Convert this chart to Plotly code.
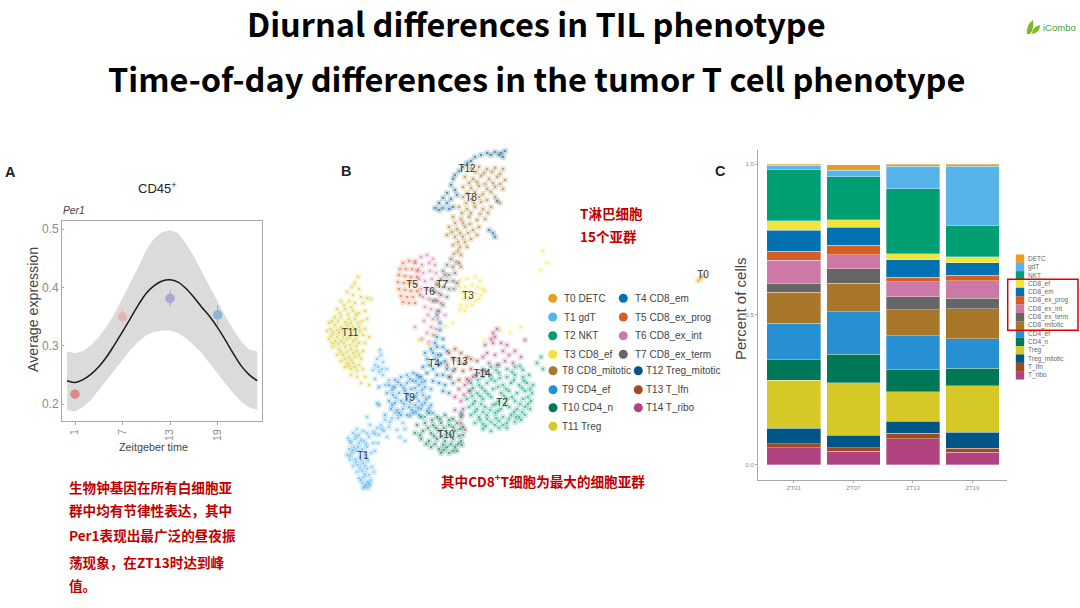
import plotly.graph_objects as go

W, H = 1080, 608

# ---------- Panel A data ----------
zt_hours = [0,1,2,3,4,5,6,7,8,9,10,11,12,13,14,15,16,17,18,19,20,21,22,23,24]
per1_fit = [.240,.237,.242,.251,.264,.281,.302,.324,.347,.370,.390,.403,.411,.413,.409,.398,.383,.366,.350,.331,.309,.286,.265,.250,.240]
per1_up  = [.290,.287,.291,.301,.315,.333,.355,.381,.407,.435,.464,.484,.495,.498,.493,.475,.453,.427,.401,.375,.350,.327,.307,.293,.290]
per1_lo  = [.190,.187,.195,.207,.224,.241,.258,.275,.293,.307,.318,.324,.326,.326,.322,.313,.301,.287,.270,.253,.235,.218,.204,.194,.190]
pt_hours = [1,7,13,19]
pt_vals  = [.217,.349,.381,.353]
pt_errs  = [.008,.014,.014,.017]
pt_cols  = ['#DF8888','#E8B5B5','#A9A6CF','#8FB2D8']

# ---------- Panel B data (UMAP units) ----------
T1 = [(-77,-113),(-72,-108),(-68,-104),(-74,-118),(-70,-114),(-66,-110),(-62,-106),(-58,-108),(-76,-124),(-71,-122),(-66,-118),(-61,-116),(-56,-112),(-78,-130),(-73,-128),(-68,-126),(-63,-124),(-58,-122),(-52,-118),(-75,-135),(-70,-134),(-65,-132),(-60,-130),(-54,-128),(-72,-141),(-67,-140),(-62,-138),(-57,-136),(-50,-126),(-68,-147),(-63,-146),(-58,-144),(-53,-142),(-66,-153),(-61,-152),(-56,-150),(-51,-147),(-63,-158),(-58,-157),(-54,-155),(-60,-162),(-57,-163),(-55,-160),(-62,-163),(-52,-107),(-48,-103),(-44,-100),(-40,-95),(-46,-110),(-41,-106),(-36,-102),(-33,-93),(-30,-88),(-38,-112),(-28,-105),(-22,-98),(-25,-112),(-20,-104),(-47,-118),(-55,-100),(-52,-45),(-50,-40),(-48,-34),(-44,-30),(-42,-37),(-46,-47),(-42,-50),(-45,-25),(-38,-44),(-36,-55),(-40,-60),(-50,-54),(-32,-62),(-58,-92),(-48,-78),(-20,-116)]
T1b = [(-75,-116),(-69,-111),(-64,-115),(-72,-125),(-67,-122),(-59,-119),(-75,-131),(-61,-127),(-69,-137),(-64,-135),(-59,-133),(-65,-143),(-60,-141),(-60,-149),(-64,-155),(-56,-158),(-59,-160),(-50,-109),(-43,-104),(-35,-97),(-27,-93),(-47,-42),(-43,-44)]
T2 = [(58,-44),(66,-42),(74,-40),(82,-44),(90,-42),(98,-45),(50,-50),(58,-52),(66,-50),(74,-48),(82,-52),(90,-50),(98,-52),(104,-50),(46,-58),(54,-60),(62,-58),(70,-56),(78,-60),(86,-58),(94,-60),(102,-58),(108,-60),(44,-66),(52,-68),(60,-66),(68,-64),(76,-68),(84,-66),(92,-68),(100,-66),(107,-68),(42,-74),(50,-76),(58,-74),(66,-72),(74,-76),(82,-74),(90,-76),(98,-74),(106,-76),(44,-82),(52,-84),(60,-82),(68,-80),(76,-84),(84,-82),(92,-84),(100,-82),(105,-84),(46,-90),(54,-92),(62,-90),(70,-88),(78,-92),(86,-90),(94,-92),(100,-90),(50,-98),(58,-99),(66,-97),(74,-96),(82,-98),(90,-97),(96,-95),(58,-104),(66,-106),(74,-103),(82,-103),(36,-88),(112,-38),(118,-44),(116,-32)]
T2b = [(61,-47),(71,-45),(87,-47),(95,-41),(53,-55),(66,-54),(75,-53),(89,-55),(99,-56),(48,-63),(57,-63),(73,-62),(81,-64),(97,-63),(105,-64),(47,-71),(55,-71),(63,-69),(79,-71),(87,-72),(103,-72),(48,-79),(56,-79),(71,-79),(80,-79),(95,-79),(103,-79),(50,-87),(58,-87),(65,-85),(73,-86),(89,-87),(97,-87),(55,-95),(62,-94),(71,-93),(84,-94),(91,-92),(61,-101),(70,-100),(78,-100)]
T3 = [(35,45),(42,46),(50,48),(55,44),(34,38),(40,38),(47,40),(53,38),(58,36),(38,32),(44,33),(50,32),(56,30),(60,34),(38,26),(44,26),(50,24),(54,26),(36,20),(42,19),(47,20),(35,15),(40,14),(-6,-15),(4,-20),(10,-10),(20,-1),(28,2),(60,-15),(75,-5),(85,-8),(96,-2),(118,74),(122,62),(116,55)]
T4 = [(-8,-50),(-2,-42),(2,-34),(6,-24),(10,-18),(12,-12),(15,-5),(-4,-52),(2,-48),(8,-44),(14,-40),(20,-36),(4,-40),(10,-34),(16,-30),(22,-26),(0,-28),(8,-28),(12,-22),(18,-22),(13,-30),(16,-38),(22,-44),(28,-46),(12,-50),(18,-50),(24,-52),(14,-58),(20,-60),(28,-58),(8,-56),(18,-66),(24,-68),(15,2),(12,10),(18,-14)]
T5 = [(-22,62),(-16,64),(-10,62),(-25,56),(-19,56),(-13,56),(-7,55),(-26,50),(-20,49),(-14,48),(-8,48),(-27,43),(-21,42),(-15,42),(-9,41),(-26,36),(-20,35),(-14,34),(-8,34),(-24,29),(-18,28),(-12,28),(-5,30),(-22,23),(-16,22),(-10,22)]
T6 = [(-4,68),(2,70),(8,66),(-10,64),(-3,60),(4,62),(10,60),(-8,54),(-2,52),(5,54),(11,52),(-6,46),(0,44),(7,46),(12,42),(-4,36),(2,36),(8,35),(14,32),(-2,28),(4,26),(10,25),(16,22),(0,18),(6,16),(12,14),(3,10),(8,6),(13,6),(-1,4),(6,-2),(11,-4),(2,-8),(8,-10),(-3,-14),(4,-17),(-10,-2),(20,10)]
T7 = [(26,66),(22,60),(28,58),(18,54),(24,50),(30,52),(34,62),(16,46),(22,44),(28,44),(32,42),(12,40),(18,38),(24,36),(29,36),(10,33),(16,30),(22,28),(12,24),(18,20),(14,14),(8,24),(20,50)]
T8 = [(46,157),(54,158),(62,156),(70,157),(78,156),(40,148),(48,146),(56,149),(64,146),(72,148),(80,145),(38,138),(46,137),(54,139),(62,136),(70,138),(78,136),(38,128),(46,126),(54,128),(62,125),(70,128),(75,122),(34,118),(42,116),(50,118),(58,116),(66,118),(28,108),(36,106),(44,108),(52,105),(60,106),(24,98),(32,96),(40,98),(48,95),(54,98),(22,90),(30,88),(38,88),(46,86),(52,90),(28,80),(35,78),(42,78),(29,71),(36,70),(31,63),(36,58)]
T8b = [(51,153),(59,152),(67,153),(75,151),(44,142),(52,143),(60,141),(68,142),(75,141),(42,132),(50,133),(58,131),(66,133),(41,122),(49,122),(56,123),(37,112),(46,112),(55,111),(63,112),(30,102),(38,102),(45,101),(27,93),(35,92),(43,92),(33,83),(40,83),(33,74)]
T9 = [(-30,-55),(-24,-52),(-18,-50),(-12,-48),(-6,-52),(0,-56),(-36,-60),(-30,-62),(-24,-60),(-18,-58),(-12,-56),(-6,-60),(0,-62),(6,-64),(-38,-68),(-32,-70),(-26,-68),(-20,-66),(-14,-64),(-8,-68),(-2,-70),(4,-72),(-36,-76),(-30,-78),(-24,-76),(-18,-74),(-12,-72),(-6,-76),(0,-78),(6,-80),(-34,-84),(-28,-85),(-22,-84),(-16,-82),(-10,-80),(-4,-84),(2,-86),(8,-88),(-24,-90),(-18,-90),(-12,-88),(-6,-90),(0,-92),(-40,-90),(-46,-62),(-46,-80)]
T9b = [(-27,-57),(-15,-54),(-9,-56),(-3,-57),(-33,-65),(-21,-63),(-10,-63),(-3,-65),(-29,-73),(-17,-70),(-9,-72),(1,-74),(-33,-80),(-21,-79),(-15,-77),(-3,-80),(-26,-88),(-13,-85),(-7,-83),(4,-83),(-15,-91),(-9,-87)]
T10 = [(-4,-92),(4,-88),(12,-92),(20,-90),(28,-94),(36,-92),(-8,-100),(0,-98),(8,-100),(16,-98),(24,-100),(32,-98),(38,-102),(-10,-108),(-2,-106),(6,-108),(14,-106),(22,-108),(30,-106),(38,-110),(-4,-114),(4,-116),(12,-114),(20,-116),(28,-114),(36,-116),(6,-122),(14,-124),(22,-122),(30,-122),(37,-120),(16,-128),(24,-128),(32,-126)]
T10b = [(7,-95),(15,-94),(24,-95),(3,-103),(11,-103),(19,-103),(28,-102),(35,-104),(-5,-110),(9,-111),(17,-111),(26,-110),(34,-111),(1,-119),(10,-119),(18,-120),(26,-119),(33,-119),(19,-125),(28,-126)]
T11 = [(-67,48),(-70,42),(-73,38),(-66,36),(-78,33),(-72,30),(-64,28),(-58,27),(-84,24),(-76,24),(-70,22),(-62,22),(-54,26),(-88,16),(-80,16),(-72,14),(-66,12),(-60,14),(-90,8),(-84,8),(-76,6),(-70,6),(-63,4),(-58,6),(-96,2),(-90,0),(-84,-2),(-78,0),(-72,-2),(-66,-2),(-60,-4),(-98,-6),(-92,-8),(-86,-8),(-80,-8),(-74,-8),(-68,-10),(-62,-10),(-56,-12),(-96,-14),(-90,-16),(-84,-16),(-78,-14),(-72,-16),(-66,-18),(-60,-18),(-92,-22),(-86,-24),(-80,-22),(-74,-24),(-68,-26),(-62,-26),(-88,-30),(-82,-30),(-76,-32),(-70,-32),(-64,-34),(-84,-36),(-78,-38),(-72,-38),(-66,-40),(-80,-42),(-74,-44),(-68,-46),(-62,-44),(-74,-50),(-68,-52),(-60,-52),(-64,-58),(-56,-60)]
T11b = [(-81,20),(-74,18),(-85,12),(-77,11),(-69,10),(-93,4),(-87,4),(-80,3),(-74,2),(-67,2),(-94,-4),(-88,-5),(-83,-5),(-77,-4),(-71,-5),(-65,-6),(-94,-11),(-88,-12),(-82,-12),(-75,-12),(-69,-14),(-93,-18),(-87,-19),(-81,-18),(-75,-20),(-69,-21),(-84,-27),(-78,-27),(-72,-28),(-66,-30),(-80,-34),(-74,-35),(-76,-41),(-70,-42)]
T12 = [(80,174),(76,172),(70,173),(66,170),(62,172),(56,170),(50,168),(46,164),(42,162),(38,158),(34,154),(30,150),(28,146),(26,140),(30,135),(22,132),(18,127),(26,126),(32,130),(14,122),(22,122),(10,117),(14,115),(18,117),(24,116),(28,118),(74,170),(78,168),(72,124),(68,92),(64,95),(70,88)]
T13 = [(24,-28),(30,-24),(36,-28),(42,-32),(28,-34),(34,-36),(40,-38),(46,-34),(52,-36),(22,-40),(30,-44),(38,-46),(46,-44),(25,-52),(34,-55),(42,-54)]
T14 = [(36,-98),(37,-90),(38,-84),(36,-76),(39,-70),(34,-64),(40,-60),(44,-56),(48,-52),(54,-48),(60,-46),(30,-72),(45,-66),(68,-8),(66,-14),(70,-12),(68,-18),(72,-4),(60,-20),(76,-18),(62,-28),(70,-30),(78,-26),(84,-30),(90,-26),(64,-38),(72,-40),(80,-36),(88,-38),(96,-32),(58,-32),(82,-20),(100,-15),(30,-85),(40,-105)]
T0 = [(273,44),(275,46),(277,48),(279,50)]

cluster_names = ['T0','T1','T2','T3','T4','T5','T6','T7','T8','T9','T10','T11','T12','T13','T14']
cell_types = ['DETC','gdT','NKT','CD8_ef','CD8_em','CD8_ex_prog','CD8_ex_int','CD8_ex_term','CD8_mitotic','CD4_ef','CD4_n','Treg','Treg_mitotic','T_Ifn','T_ribo']
cluster_cols = ['#E69F1F','#56B4E9','#009E73','#F0E442','#0072B2','#D55E27','#CC79A7','#666666','#A87729','#2690D3','#007756','#D5C827','#005685','#A04A24','#B14380']
cluster_pts = [T0,T1+T1b,T2+T2b,T3,T4,T5,T6,T7,T8+T8b,T9+T9b,T10+T10b,T11+T11b,T12,T13,T14]
label_u = [278,-62,77,43,9,-13,4,17,46,-16,21,-75,42,34,57]
label_v = [50,-131,-78,29,-39,40,33,40,127,-73,-110,-8,156,-37,-49]

# ---------- Panel C data ----------
zt_groups = ['ZT01','ZT07','ZT13','ZT19']
DETC    = [.004,.019,.007,.007]
gdT     = [.014,.022,.076,.198]
NKT     = [.171,.143,.215,.103]
CD8_ef  = [.032,.025,.020,.020]
CD8_em  = [.069,.060,.059,.041]
CD8_ex_prog = [.030,.030,.014,.019]
CD8_ex_int  = [.079,.048,.051,.058]
CD8_ex_term = [.027,.048,.042,.035]
CD8_mitotic = [.104,.094,.088,.099]
CD4_ef  = [.121,.142,.113,.098]
CD4_n   = [.068,.095,.073,.058]
Treg    = [.160,.174,.098,.155]
Treg_mitotic = [.051,.041,.040,.053]
T_Ifn   = [.014,.013,.017,.013]
T_ribo  = [.057,.045,.088,.043]
stack_top_down = [DETC,gdT,NKT,CD8_ef,CD8_em,CD8_ex_prog,CD8_ex_int,CD8_ex_term,CD8_mitotic,CD4_ef,CD4_n,Treg,Treg_mitotic,T_Ifn,T_ribo]

# ---------- Text ----------
title_1 = 'Diurnal differences in TIL phenotype'
title_2 = 'Time-of-day differences in the tumor T cell phenotype'
note_a = ['生物钟基因在所有白细胞亚','群中均有节律性表达，其中','Per1表现出最广泛的昼夜振','荡现象，在ZT13时达到峰','值。']
note_b = ['T淋巴细胞','15个亚群']
note_c = '其中CD8<sup>+</sup>T细胞为最大的细胞亚群'

SANS = 'Liberation Sans'
CJK = 'Noto Sans CJK SC'
RED = '#C00000'
GREY = '#8A8A8A'

def xdom(a, b): return [a / W, b / W]
def ydom(a, b): return [1 - b / H, 1 - a / H]

fig = go.Figure()
ann = []
def txt(x, y, s, size, color='#333333', anchor='left', font=SANS, weight=400, angle=0):
    ann.append(dict(x=x / W, y=1 - y / H, xref='paper', yref='paper', text=s, showarrow=False,
                    xanchor=anchor, yanchor='middle', textangle=angle, borderpad=0, borderwidth=0,
                    font=dict(size=size, color=color, family=font, weight=weight)))

# Panel A
fig.add_trace(go.Scatter(x=zt_hours + zt_hours[::-1], y=per1_up + per1_lo[::-1], fill='toself',
                         fillcolor='#DBDBDB', mode='lines', line=dict(width=0), xaxis='x', yaxis='y', showlegend=False))
fig.add_trace(go.Scatter(x=zt_hours, y=per1_fit, mode='lines', line=dict(color='#1A1A1A', width=1.5, shape='spline'),
                         xaxis='x', yaxis='y', showlegend=False))
for h, v, e, c in zip(pt_hours, pt_vals, pt_errs, pt_cols):
    fig.add_trace(go.Scatter(x=[h], y=[v], mode='markers', marker=dict(size=9.5, color=c),
                             error_y=dict(type='data', array=[e], color=c, thickness=1, width=0),
                             xaxis='x', yaxis='y', showlegend=False))

# Panel B
for pts, col in zip(cluster_pts, cluster_cols):
    u = [p[0] for p in pts]; v = [p[1] for p in pts]
    fig.add_trace(go.Scatter(x=u, y=v, mode='markers', marker=dict(size=6.5, color=col, opacity=.2, line=dict(width=0)),
                             xaxis='x2', yaxis='y2', showlegend=False))
    fig.add_trace(go.Scatter(x=u, y=v, mode='markers', marker=dict(size=2, color=col, opacity=.7, line=dict(width=0)),
                             xaxis='x2', yaxis='y2', showlegend=False))
fig.add_trace(go.Scatter(x=label_u, y=label_v, mode='text', text=cluster_names,
                         textfont=dict(size=10, color='#333333', family=SANS), xaxis='x2', yaxis='y2', showlegend=False))

# Panel C
for name, vals, col in list(zip(cell_types, stack_top_down, cluster_cols))[::-1]:
    fig.add_trace(go.Bar(x=zt_groups, y=vals, name=name, width=.9, marker=dict(color=col, line=dict(color='rgba(255,255,255,.55)', width=.6)),
                         xaxis='x3', yaxis='y3', showlegend=False))

# Page overlay axis for hand-placed keys
legend_pos = [(552.7,298.3),(552.7,317),(552.7,335.7),(552.7,354.3),(623.3,298.3),(623.3,317),(623.3,335.7),(623.3,354.3),
              (553,370.7),(553,389.7),(553,407.7),(553,426.3),(638.3,370.7),(638.3,389.7),(638.3,407.7)]
text_x = [564,564,564,564,635,635,635,635,562.3,562.3,562.3,562.3,646,646,646]
fig.add_trace(go.Scatter(x=[p[0] for p in legend_pos], y=[p[1] for p in legend_pos], mode='markers',
                         marker=dict(size=9, color=cluster_cols), xaxis='x4', yaxis='y4', showlegend=False))
for (px, py), tx, n, ct in zip(legend_pos, text_x, cluster_names, cell_types):
    txt(tx, py, f'{n} {ct}', 10, '#444444')

key_x = [1020] * 15
key_y = [258.7 + 8.33 * i for i in range(15)]
fig.add_trace(go.Scatter(x=key_x, y=key_y, mode='markers', marker=dict(size=8.4, symbol='square', color=cluster_cols),
                         xaxis='x4', yaxis='y4', showlegend=False))
for y, ct in zip(key_y, cell_types):
    txt(1028.3, y, ct, 6.5, '#666666')

# Text
txt(536.5, 23, title_1, 32.5, '#000000', 'center', CJK, 700)
txt(536.5, 78, title_2, 32.5, '#000000', 'center', CJK, 700)
txt(5, 172, 'A', 14.5, '#222222', weight=700)
txt(340.5, 171, 'B', 14.5, '#222222', weight=700)
txt(714.5, 171, 'C', 14.5, '#222222', weight=700)
txt(157, 188, 'CD45<sup>+</sup>', 13, '#222222', 'center')
txt(62.5, 210, '<i>Per1</i>', 10.3, '#444444')
txt(33, 310, 'Average expression', 14.2, '#444444', 'center', angle=-90)
txt(153, 447, 'Zeitgeber time', 10.8, '#444444', 'center')
txt(740, 309, 'Percent of cells', 15, '#444444', 'center', angle=-90)
for s, y in zip(note_a, [487, 510, 535, 562, 585]):
    txt(69, y, s, 13.6, RED, font=CJK, weight=700)
for s, y in zip(note_b, [213, 236]):
    txt(580, y, s, 13.5, RED, font=CJK, weight=700)
txt(441, 481, note_c, 13.6, RED, font=CJK, weight=700)
txt(1043, 28, 'iCombo', 9.5, '#4C9A2A', font=SANS)

shapes = [
    dict(type='rect', xref='paper', yref='paper', x0=1007.7/W, x1=1078/W, y0=1-330.3/H, y1=1-279.3/H,
         line=dict(color='#E00000', width=1.5)),
    dict(type='path', xref='paper', yref='paper', line=dict(width=0), fillcolor='#7DB928',
         path=f'M {1027/W} {1-34/H} Q {1026/W} {1-25/H} {1033/W} {1-20/H} Q {1034/W} {1-30/H} {1030/W} {1-34/H} Z'),
    dict(type='path', xref='paper', yref='paper', line=dict(width=0), fillcolor='#7DB928',
         path=f'M {1032/W} {1-34/H} Q {1032/W} {1-27/H} {1040/W} {1-25/H} Q {1040/W} {1-33/H} {1032/W} {1-34/H} Z'),
]

axis_line = '#A8A8A8'
fig.update_layout(
    width=W, height=H, autosize=False, margin=dict(l=0, r=0, t=0, b=0),
    paper_bgcolor='white', plot_bgcolor='rgba(0,0,0,0)', barmode='stack', bargap=.1,
    annotations=ann, shapes=shapes,
    xaxis=dict(domain=xdom(62, 262), anchor='y', range=[-0.64, 24.6], tickvals=pt_hours, tickangle=-90, showgrid=False, zeroline=False,
               mirror=True, showline=True, linecolor=axis_line, linewidth=1, ticks='outside', ticklen=3, tickcolor=axis_line,
               tickfont=dict(size=10.5, color=GREY, family=SANS)),
    yaxis=dict(domain=ydom(221, 421), anchor='x', range=[.171, .5137], tickvals=[.2,.3,.4,.5], ticktext=['0.2','0.3','0.4','0.5'], showgrid=False, zeroline=False,
               mirror=True, showline=True, linecolor=axis_line, linewidth=1, ticks='inside', ticklen=2, tickcolor=axis_line,
               tickfont=dict(size=12, color=GREY, family=SANS)),
    xaxis2=dict(domain=xdom(320, 720), anchor='y2', range=[-105, 295], visible=False),
    yaxis2=dict(domain=ydom(145, 500), anchor='x2', range=[-175, 180], visible=False),
    xaxis3=dict(domain=xdom(758, 1007), anchor='y3', range=[-.6, 3.58], type='category', categoryorder='array', categoryarray=zt_groups,
                showgrid=False, zeroline=False, showline=True, linecolor=axis_line, linewidth=1, ticks='outside', ticklen=2, tickcolor=axis_line,
                tickfont=dict(size=6, color=GREY, family=SANS)),
    yaxis3=dict(domain=ydom(150, 480), anchor='x3', range=[-.05, 1.0476], tickvals=[0,.5,1], ticktext=['0.0','0.5','1.0'], showgrid=False, zeroline=False,
                showline=True, linecolor=axis_line, linewidth=1, ticks='outside', ticklen=2, tickcolor=axis_line,
                tickfont=dict(size=6, color=GREY, family=SANS)),
    xaxis4=dict(domain=[0, 1], anchor='y4', range=[0, W], visible=False),
    yaxis4=dict(domain=[0, 1], anchor='x4', range=[H, 0], visible=False),
)

fig.write_html('out.html', config=dict(displayModeBar=False), post_script="document.body.style.margin='0';")
